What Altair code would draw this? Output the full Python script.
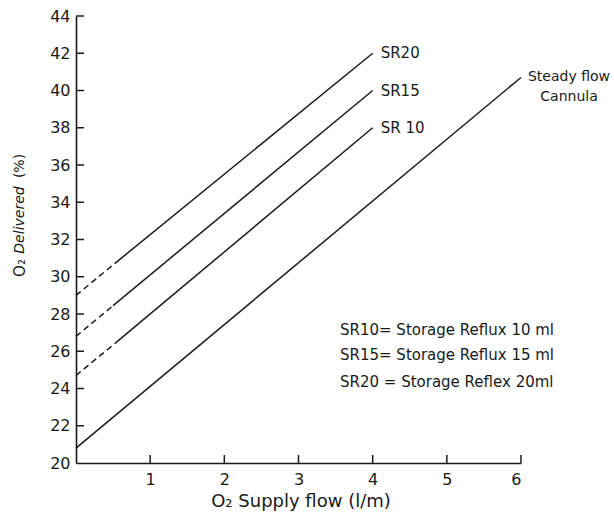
import altair as alt
import pandas as pd

# ---- data ----
series = ["SR10", "SR15", "SR20", "Steady flow"]
x_start = [0, 0, 0, 0]
y_start = [24.7, 26.8, 29.0, 20.8]
x_break = [0.55, 0.5, 0.55, 0]        # end of dashed (extrapolated) part
y_break = [26.5, 28.45, 30.8, 20.8]
x_end = [4, 4, 4, 6]
y_end = [38.0, 40.0, 42.0, 40.7]
end_labels = ["SR 10", "SR15", "SR20", "Steady flow\nCannula"]

x_ticks = [1, 2, 3, 4, 5, 6]
y_ticks = [20, 22, 24, 26, 28, 30, 32, 34, 36, 38, 40, 42, 44]

legend_lines = [
    "SR10= Storage Reflux  10 ml",
    "SR15= Storage Reflux  15 ml",
    "SR20 = Storage Reflex 20ml",
]

FONT = "DejaVu Sans"
INK = "#1a1a1a"
W, H = 445, 447

df = pd.DataFrame({
    "series": series, "x0": x_start, "y0": y_start,
    "xb": x_break, "yb": y_break, "x1": x_end, "y1": y_end,
    "label": end_labels,
})
dashed_df = df[df["xb"] > 0]
sr_df = df[df["series"] != "Steady flow"]
steady_df = df[df["series"] == "Steady flow"]

xs = alt.Scale(domain=[0, 6], nice=False, zero=False)
ys = alt.Scale(domain=[20, 44], nice=False, zero=False)

x_axis = alt.Axis(values=x_ticks, format="d", title=None, tickSize=0, labelPadding=8,
                  labelFontSize=16, labelFont=FONT, labelColor=INK, grid=False,
                  labelOverlap=False, domainColor=INK, domainWidth=1.6)
y_axis = alt.Axis(values=y_ticks, format="d", title=None, tickSize=0, labelPadding=6,
                  labelFontSize=16, labelFont=FONT, labelColor=INK, grid=False,
                  labelOverlap=False, domainColor=INK, domainWidth=1.6)

def X(f):
    return alt.X(f, scale=xs, axis=x_axis)

def Y(f):
    return alt.Y(f, scale=ys, axis=y_axis)

solid = alt.Chart(df).mark_rule(color=INK, strokeWidth=1.5).encode(
    x=X("xb:Q"), y=Y("yb:Q"), x2="x1:Q", y2="y1:Q",
)
dashed = alt.Chart(dashed_df).mark_rule(color=INK, strokeWidth=1.5, strokeDash=[6, 4]).encode(
    x=X("x0:Q"), y=Y("y0:Q"), x2="xb:Q", y2="yb:Q",
)

x_tick_marks = alt.Chart(pd.DataFrame({"t": x_ticks})).mark_rule(color=INK, strokeWidth=1.5).encode(
    x=X("t:Q"), y=alt.value(H), y2=alt.value(H - 8),
)
y_tick_marks = alt.Chart(pd.DataFrame({"t": y_ticks[1:]})).mark_rule(color=INK, strokeWidth=1.5).encode(
    y=Y("t:Q"), x=alt.value(0), x2=alt.value(8),
)

sr_labels = alt.Chart(sr_df).mark_text(
    align="left", baseline="middle", dx=8, font=FONT, fontSize=15, color=INK
).encode(x=X("x1:Q"), y=Y("y1:Q"), text="label:N")

steady_label = alt.Chart(steady_df).mark_text(
    align="center", baseline="middle", dx=48, font=FONT, fontSize=14, color=INK,
    lineBreak="\n", lineHeight=20,
).encode(x=X("x1:Q"), y=Y("y1:Q"), text="label:N")

legend_y = [314, 339, 366]
legend_layers = [
    alt.Chart(pd.DataFrame({"t": [txt]})).mark_text(
        align="left", baseline="middle", font=FONT, fontSize=15, color=INK
    ).encode(x=alt.value(264), y=alt.value(yy), text="t:N")
    for txt, yy in zip(legend_lines, legend_y)
]

def free_text(txt, x, y, angle=0, style="normal", size=14):
    kw = dict(align="center", baseline="middle", font=FONT, fontSize=size,
              color=INK, fontStyle=style)
    if angle:
        kw["angle"] = angle
    return alt.Chart(pd.DataFrame({"t": [txt]})).mark_text(**kw).encode(
        x=alt.value(x), y=alt.value(y), text="t:N")

titles = [
    free_text("O₂  Supply flow (l/m)", 225, 486, size=18),
    free_text("O₂", -56, 252, angle=270, size=15),
    free_text("Delivered", -56, 204, angle=270, style="italic", size=14),
    free_text("(%)", -56, 150, angle=270, size=14),
]

chart = alt.layer(
    dashed, solid, x_tick_marks, y_tick_marks,
    sr_labels, steady_label, *legend_layers, *titles,
).properties(
    width=W, height=H,
    autosize=alt.AutoSizeParams(type="none"),
    padding={"left": 76, "top": 16, "right": 93, "bottom": 49},
    background="white",
).configure_view(stroke=None)

chart.save("out.html", embed_options={"renderer": "svg", "actions": False})
